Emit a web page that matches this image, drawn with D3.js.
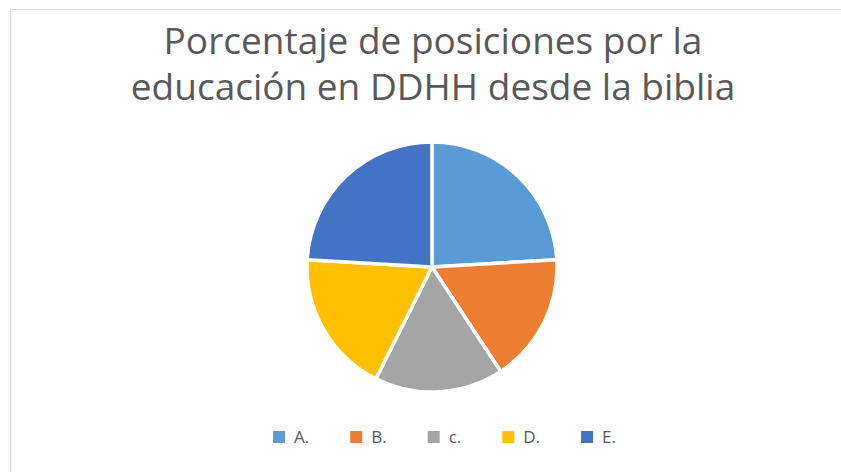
<!DOCTYPE html>
<html>
<head>
<meta charset="utf-8">
<script src="https://cdn.jsdelivr.net/npm/d3@7"></script>
<style>
body { margin: 0; background: #fff; }
</style>
</head>
<body>
<script>
// data (counts, total 54)
var categories = ['A.', 'B.', 'c.', 'D.', 'E.'];
var values = [13, 9, 9, 10, 13];
var colors = ['#5B9BD5', '#ED7D31', '#A5A5A5', '#FFC000', '#4472C4'];
var titleLines = ['Porcentaje de posiciones por la', 'educación en DDHH desde la biblia'];

var width = 841;
var height = 472;

var svg = d3.select('body').append('svg')
	.attr('width', width)
	.attr('height', height)
	.style('font-family', '"Open Sans", sans-serif');

// chart area border (only top and left show)
svg.append('rect')
	.attr('x', 10.5)
	.attr('y', 9.5)
	.attr('width', 900)
	.attr('height', 600)
	.attr('fill', 'none')
	.attr('stroke', '#d9d9d9');

svg.append('g').selectAll('text')
	.data(titleLines)
	.enter().append('text')
		.attr('x', 433)
		.attr('y', function(d, i) { return 54 + i * 46 })
		.attr('text-anchor', 'middle')
		.attr('fill', '#595959')
		.style('font-size', '37px')
		.text(function(d) { return d });

var pie = d3.pie().sort(null).value(function(d) { return d });
var arc = d3.arc().innerRadius(0).outerRadius(125);

svg.append('g')
	.attr('transform', 'translate(432,267)')
	.selectAll('path')
	.data(pie(values))
	.enter().append('path')
		.attr('d', arc)
		.attr('fill', function(d, i) { return colors[i] })
		.attr('stroke', '#fff')
		.attr('stroke-width', 3.5)
		.attr('stroke-linejoin', 'round');

// legend
var legend = svg.append('g').attr('transform', 'translate(0,437)');
var x = 273;
categories.forEach(function(c, i) {
	var item = legend.append('g').attr('transform', 'translate(' + x + ',0)');
	item.append('rect')
		.attr('x', 0)
		.attr('y', -6)
		.attr('width', 12)
		.attr('height', 12)
		.attr('fill', colors[i]);
	var t = item.append('text')
		.attr('x', 21)
		.attr('y', 6)
		.attr('fill', '#595959')
		.style('font-size', '17px')
		.text(c);
	x += 21 + t.node().getComputedTextLength() + 41;
});
</script>
</body>
</html>
